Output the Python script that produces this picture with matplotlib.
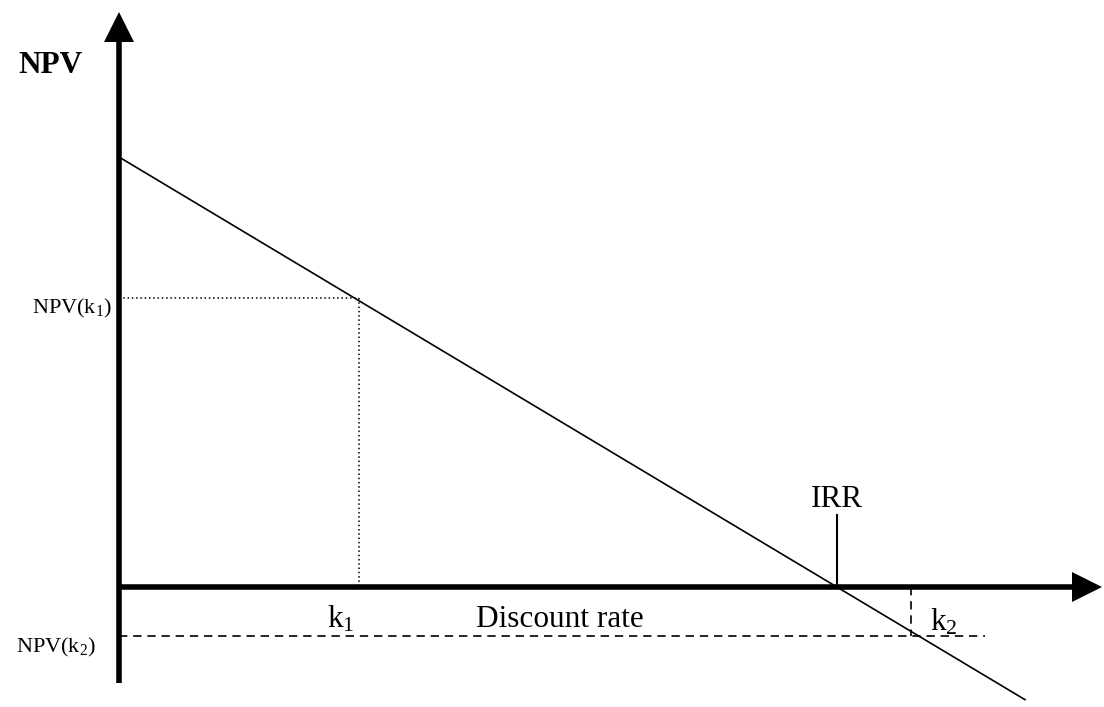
import matplotlib
matplotlib.use('Agg')
import matplotlib.pyplot as plt

plt.rcParams['font.family'] = ['Liberation Serif', 'DejaVu Serif']
plt.rcParams['mathtext.fontset'] = 'custom'
plt.rcParams['mathtext.rm'] = 'Liberation Serif'
plt.rcParams['mathtext.it'] = 'Liberation Serif:italic'

# illustrative NPV profile (discount rate in %, NPV in arbitrary units)
rate = [0.0, 12.62]
npv = [100.0, -26.2]
irr = 10.0
k1, npv_k1 = 3.34, 67.2
k2, npv_k2 = 11.03, -11.4

x_lim = (-1.657, 13.72)
y_lim = (-27.9, 136.5)
x_axis_end = 13.28      # where the x arrow head starts
y_axis_range = (-22.3, 126.7)
k2_line_end = 12.06
irr_tick_top = 16.7

fig = plt.figure(figsize=(11.04, 7.07), dpi=100)
ax = fig.add_axes([0, 0, 1, 1])
ax.set_xlim(*x_lim)
ax.set_ylim(*y_lim)
ax.axis('off')

# thick axes, arrow heads as triangle markers
ax.plot([0, 0], y_axis_range, color='black', lw=4, solid_capstyle='butt')
ax.plot([0, x_axis_end], [0, 0], color='black', lw=4, solid_capstyle='butt')
ax.plot([0], [130.2], marker='^', ms=21.6, color='black', mew=0)
ax.plot([13.49], [0], marker='>', ms=21.6, color='black', mew=0)

# NPV line
ax.plot(rate, npv, color='black', lw=1.2)

# k1 dotted guides
ax.plot([0, k1], [npv_k1, npv_k1], color='black', lw=1.1, ls=(0, (1, 1.8)))
ax.plot([k1, k1], [npv_k1, 0], color='black', lw=1.1, ls=(0, (1, 1.8)))

# k2 dashed guides
ax.plot([0, k2_line_end], [npv_k2, npv_k2], color='black', lw=1.2, ls=(0, (5, 3.5)))
ax.plot([k2, k2], [0, npv_k2], color='black', lw=1.2, ls=(0, (5, 3.5)))

# IRR tick
ax.plot([irr, irr], [0, irr_tick_top], color='black', lw=1.5)

ax.text(-1.407, 121.3, 'NPV', fontsize=22.5, fontweight='bold', ha='left', va='center')
ax.annotate(r'NPV(k$_1$)', xy=(0, npv_k1), xytext=(-5, -11), textcoords='offset points',
            fontsize=16, ha='right', va='baseline')
ax.annotate(r'NPV(k$_2$)', xy=(0, npv_k2), xytext=(-16.5, -12), textcoords='offset points',
            fontsize=16, ha='right', va='baseline')
ax.annotate(r'k$_1$', xy=(k1, 0), xytext=(-3, -29), textcoords='offset points',
            fontsize=22.5, ha='right', va='baseline')
ax.annotate(r'k$_2$', xy=(k2, 0), xytext=(13.7, -31), textcoords='offset points',
            fontsize=22.5, ha='left', va='baseline')
ax.annotate('IRR', xy=(irr, 0), xytext=(0, 57.6), textcoords='offset points',
            fontsize=22.5, ha='center', va='baseline')
ax.text(6.14, -9.3, 'Discount rate', fontsize=22.5, ha='center', va='baseline')

fig.savefig('out.png', dpi=100)
